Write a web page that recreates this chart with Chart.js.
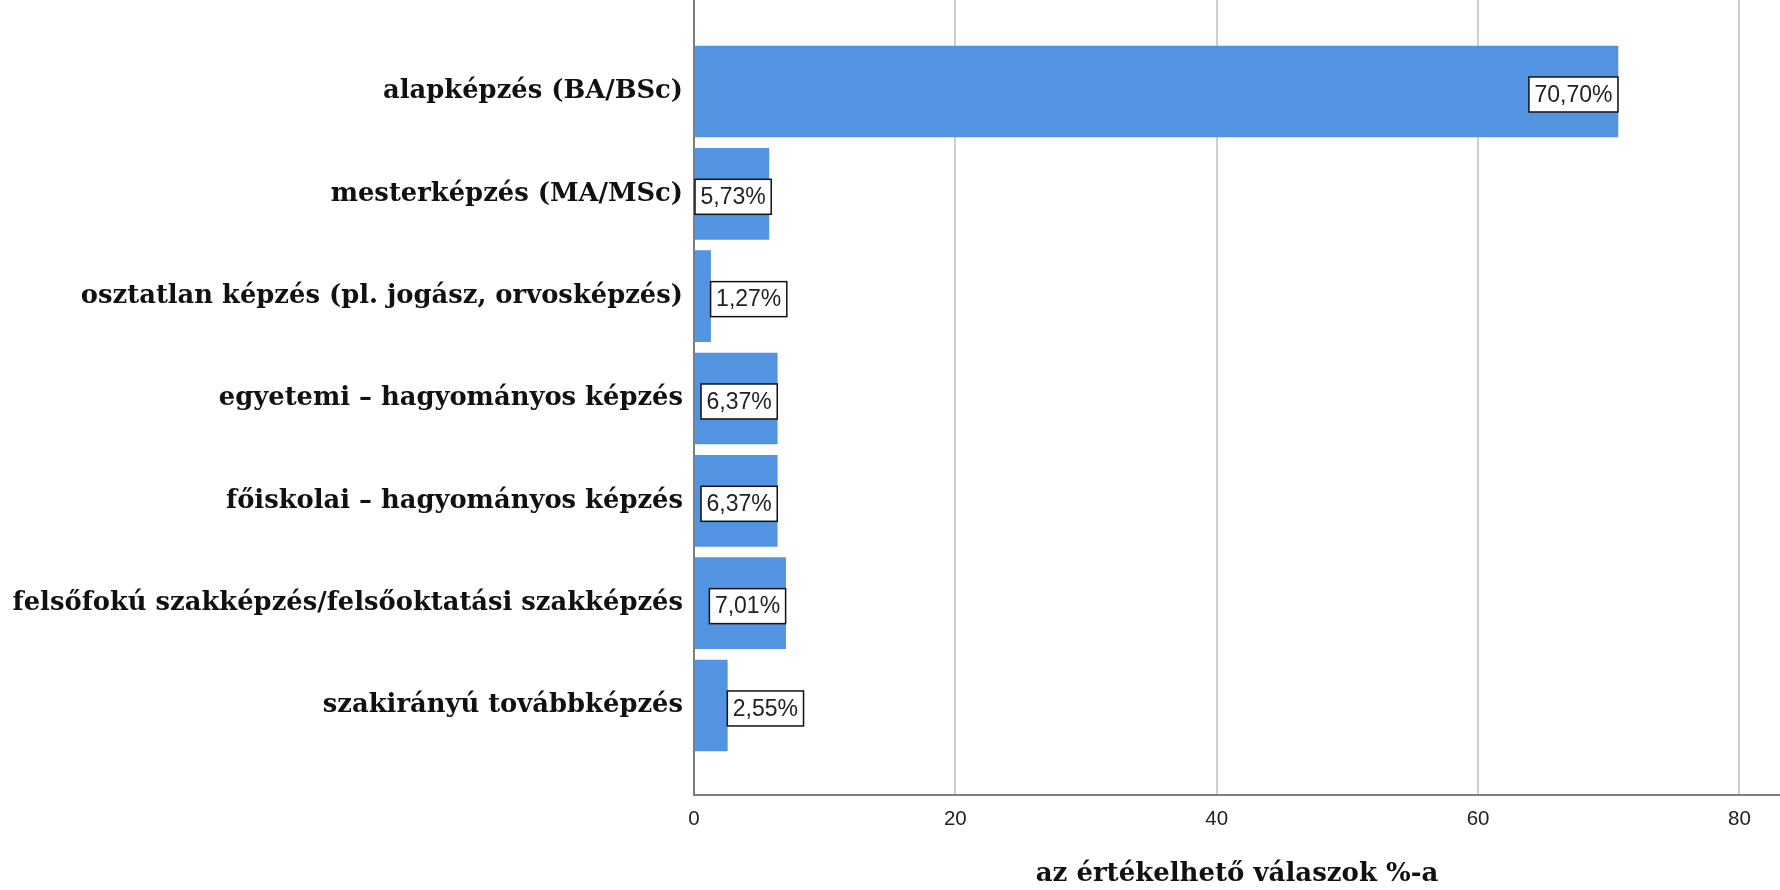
<!DOCTYPE html>
<html>
<head>
<meta charset="utf-8">
<script src="https://cdn.jsdelivr.net/npm/chart.js@4/dist/chart.umd.min.js"></script>
<style>
  html, body { margin: 0; padding: 0; background: #ffffff; }
  #wrap { width: 1780px; height: 890px; }
</style>
</head>
<body>
<div id="wrap"><canvas id="c" width="1780" height="890"></canvas></div>
<script>
const categories = [
  'alapképzés (BA/BSc)',
  'mesterképzés (MA/MSc)',
  'osztatlan képzés (pl. jogász, orvosképzés)',
  'egyetemi – hagyományos képzés',
  'főiskolai – hagyományos képzés',
  'felsőfokú szakképzés/felsőoktatási szakképzés',
  'szakirányú továbbképzés'
];
const values = [70.70, 5.73, 1.27, 6.37, 6.37, 7.01, 2.55];
const xTickValues = [0, 20, 40, 60, 80];
const xTitle = 'az értékelhető válaszok %-a';

const LABEL_FONT = '23px "Liberation Sans", Arial, sans-serif';
const SERIF = '"DejaVu Serif", "Liberation Serif", serif';

const fmt = v => v.toFixed(2).replace('.', ',') + '%';

const valueLabelPlugin = {
  id: 'valueLabels',
  afterDatasetsDraw(chart) {
    const ctx = chart.ctx;
    const meta = chart.getDatasetMeta(0);
    ctx.save();
    ctx.font = LABEL_FONT;
    ctx.textBaseline = 'middle';
    ctx.textAlign = 'left';
    meta.data.forEach((bar, i) => {
      const txt = fmt(values[i]);
      const tw = ctx.measureText(txt).width;
      const pad = 5.5;
      const bw = tw + pad * 2;
      const bh = 35;
      const barWidth = bar.x - bar.base;
      let left = (barWidth >= bw * 0.85) ? Math.max(bar.base, bar.x - bw) : bar.x;
      const top = bar.y + 3 - bh / 2;
      ctx.fillStyle = '#ffffff';
      ctx.fillRect(left, top, bw, bh);
      ctx.strokeStyle = '#111111';
      ctx.lineWidth = 1.5;
      ctx.strokeRect(left, top, bw, bh);
      ctx.fillStyle = '#222222';
      ctx.fillText(txt, left + pad, bar.y + 4);
    });
    ctx.restore();
  }
};

new Chart(document.getElementById('c'), {
  type: 'bar',
  data: {
    datasets: [{
      data: values.map((v, i) => ({ x: v, y: i })),
      backgroundColor: '#5294e2',
      borderWidth: 0,
      barThickness: 91
    }]
  },
  options: {
    indexAxis: 'y',
    responsive: false,
    animation: false,
    layout: { padding: 0 },
    plugins: { legend: { display: false }, tooltip: { enabled: false } },
    scales: {
      x: {
        type: 'linear',
        min: 0,
        max: 83.1,
        afterBuildTicks: s => { s.ticks = xTickValues.map(v => ({ value: v })); },
        afterFit: s => { s.height = 95; s.paddingLeft = 0; s.paddingRight = 0; },
        grid: {
          color: ctx => ctx.tick && ctx.tick.value === 0 ? 'rgba(0,0,0,0)' : '#cfcfcf',
          lineWidth: 2,
          drawTicks: false
        },
        border: { color: '#7d7d7d', width: 2 },
        ticks: {
          padding: 12,
          color: '#222222',
          font: { family: '"Liberation Sans", Arial, sans-serif', size: 20.5 },
          maxRotation: 0,
          autoSkip: false
        },
        title: {
          display: true,
          text: xTitle,
          color: '#111111',
          font: { family: SERIF, size: 26, weight: 'bold' },
          padding: { top: 0, bottom: 0 }
        }
      },
      y: {
        type: 'linear',
        reverse: true,
        offset: false,
        min: -0.894,
        max: 6.875,
        afterBuildTicks: s => { s.ticks = categories.map((c, i) => ({ value: i })); },
        afterFit: s => { s.width = 694; s.paddingTop = 0; s.paddingBottom = 0; },
        grid: { display: false, drawTicks: false, offset: false },
        border: { color: '#7d7d7d', width: 2 },
        ticks: {
          padding: 11,
          color: '#111111',
          autoSkip: false,
          font: { family: SERIF, size: 25.8, weight: 'bold' },
          callback: v => categories[v]
        }
      }
    }
  },
  plugins: [valueLabelPlugin]
});
</script>
</body>
</html>
